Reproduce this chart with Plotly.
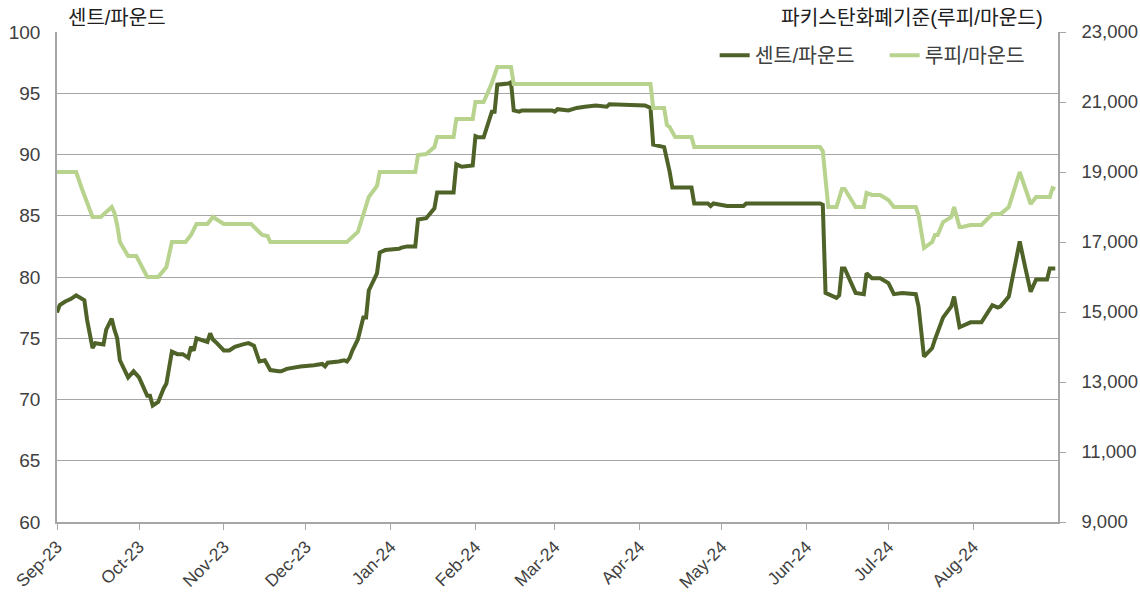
import plotly.graph_objects as go

cent_dates = ["2023-09-01","2023-09-02","2023-09-04","2023-09-06","2023-09-08","2023-09-11","2023-09-12","2023-09-14","2023-09-15","2023-09-18",
"2023-09-19","2023-09-21","2023-09-22","2023-09-23","2023-09-24","2023-09-27","2023-09-29","2023-10-01","2023-10-04","2023-10-05",
"2023-10-06","2023-10-08","2023-10-10","2023-10-11","2023-10-13","2023-10-15","2023-10-17","2023-10-19","2023-10-20","2023-10-21",
"2023-10-22","2023-10-25","2023-10-26","2023-10-27","2023-10-28","2023-10-29","2023-11-01","2023-11-03","2023-11-05","2023-11-08",
"2023-11-10","2023-11-12","2023-11-14","2023-11-16","2023-11-18","2023-11-21","2023-11-22","2023-11-24","2023-11-26","2023-11-29",
"2023-12-04","2023-12-07","2023-12-08","2023-12-09","2023-12-13","2023-12-15","2023-12-16","2023-12-17","2023-12-18","2023-12-20",
"2023-12-22","2023-12-23","2023-12-24","2023-12-27","2023-12-28","2023-12-30","2024-01-04","2024-01-05","2024-01-07","2024-01-10",
"2024-01-11","2024-01-14","2024-01-17","2024-01-18","2024-01-24","2024-01-25","2024-01-27","2024-01-31","2024-02-01","2024-02-02",
"2024-02-04","2024-02-07","2024-02-08","2024-02-09","2024-02-13","2024-02-14","2024-02-15","2024-02-17","2024-02-18","2024-02-29",
"2024-03-01","2024-03-02","2024-03-06","2024-03-09","2024-03-12","2024-03-16","2024-03-20","2024-03-21","2024-04-03","2024-04-05",
"2024-04-06","2024-04-10","2024-04-12","2024-04-13","2024-04-20","2024-04-21","2024-04-26","2024-04-27","2024-04-28","2024-05-03",
"2024-05-09","2024-05-10","2024-05-19","2024-05-25","2024-06-06","2024-06-07","2024-06-08","2024-06-12","2024-06-13","2024-06-14",
"2024-06-15","2024-06-19","2024-06-22","2024-06-23","2024-06-25","2024-06-28","2024-07-01","2024-07-03","2024-07-06","2024-07-11",
"2024-07-12","2024-07-14","2024-07-17","2024-07-18","2024-07-21","2024-07-24","2024-07-25","2024-07-27","2024-07-31","2024-08-04",
"2024-08-08","2024-08-10","2024-08-11","2024-08-14","2024-08-18","2024-08-20","2024-08-22","2024-08-24","2024-08-28","2024-08-29",
"2024-08-31"]
cent_values = [77.1,77.7,78.0,78.2,78.5,78.1,76.5,74.2,74.6,74.5,
75.7,76.6,75.7,75.0,73.2,71.8,72.3,71.8,70.3,70.3,
69.5,69.8,70.9,71.3,73.9,73.7,73.7,73.4,74.3,74.0,
75.0,74.8,74.7,75.4,74.9,74.7,74.0,74.0,74.3,74.5,
74.6,74.4,73.1,73.2,72.4,72.3,72.3,72.5,72.6,72.7,
72.8,72.9,72.7,73.0,73.1,73.2,73.1,73.4,74.0,74.9,
76.7,76.7,78.9,80.3,82.0,82.2,82.3,82.4,82.5,82.5,
84.7,84.8,85.6,86.9,86.9,89.2,89.0,89.1,91.5,91.4,
91.4,93.5,93.5,95.7,95.8,95.9,93.6,93.5,93.6,93.6,
93.5,93.7,93.6,93.8,93.9,94.0,93.9,94.1,94.0,93.8,
90.8,90.6,88.6,87.3,87.3,86.0,86.0,85.8,86.0,85.8,
85.8,86.0,86.0,86.0,86.0,85.9,78.7,78.3,78.5,80.7,
80.7,78.7,78.6,80.3,79.9,79.9,79.5,78.6,78.7,78.6,
77.6,73.5,74.2,74.9,76.7,77.6,78.4,75.9,76.3,76.3,
77.7,77.5,77.6,78.4,82.9,80.8,78.8,79.8,79.8,80.7,
80.7]

rupee_dates = ["2023-09-01","2023-09-08","2023-09-10","2023-09-14","2023-09-17","2023-09-21","2023-09-22","2023-09-23","2023-09-24","2023-09-27",
"2023-09-30","2023-10-04","2023-10-08","2023-10-11","2023-10-13","2023-10-18","2023-10-20","2023-10-22","2023-10-26","2023-10-28",
"2023-11-01","2023-11-11","2023-11-15","2023-11-17","2023-11-18","2023-12-16","2023-12-20","2023-12-22","2023-12-24","2023-12-27",
"2023-12-28","2024-01-10","2024-01-11","2024-01-14","2024-01-17","2024-01-18","2024-01-24","2024-01-25","2024-01-31","2024-02-01",
"2024-02-04","2024-02-07","2024-02-09","2024-02-14","2024-02-15","2024-04-05","2024-04-06","2024-04-10","2024-04-11","2024-04-12",
"2024-04-14","2024-04-20","2024-04-21","2024-06-06","2024-06-07","2024-06-09","2024-06-12","2024-06-14","2024-06-15","2024-06-19",
"2024-06-22","2024-06-23","2024-06-25","2024-06-28","2024-07-01","2024-07-03","2024-07-11","2024-07-12","2024-07-14","2024-07-17",
"2024-07-18","2024-07-19","2024-07-21","2024-07-24","2024-07-25","2024-07-27","2024-07-28","2024-07-31","2024-08-04","2024-08-08",
"2024-08-11","2024-08-14","2024-08-18","2024-08-20","2024-08-22","2024-08-24","2024-08-29","2024-08-30","2024-08-31"]
rupee_values = [19000,19000,18543,17714,17714,18000,17829,17486,17000,16600,
16600,16000,16000,16286,17000,17000,17200,17514,17514,17714,
17514,17514,17200,17171,17000,17000,17286,17800,18286,18600,
19000,19000,19486,19514,19714,20000,20000,20514,20514,21000,
21000,21543,22000,22000,21514,21514,20829,20829,20343,20286,
20000,20000,19714,19714,19600,18000,18000,18514,18514,18000,
18000,18400,18343,18343,18200,18000,18000,17771,16829,17000,
17200,17200,17571,17714,18000,17429,17429,17486,17486,17800,
17800,18000,19000,18543,18086,18286,18286,18543,18514]

month_ticks = ["2023-09-01","2023-10-01","2023-11-01","2023-12-01","2024-01-01","2024-02-01",
               "2024-03-01","2024-04-01","2024-05-01","2024-06-01","2024-07-01","2024-08-01"]
month_labels = ["Sep-23","Oct-23","Nov-23","Dec-23","Jan-24","Feb-24",
                "Mar-24","Apr-24","May-24","Jun-24","Jul-24","Aug-24"]
left_ticks = [60, 65, 70, 75, 80, 85, 90, 95, 100]
right_ticks = [9000, 11000, 13000, 15000, 17000, 19000, 21000, 23000]
right_tick_labels = ["9,000", "11,000", "13,000", "15,000", "17,000", "19,000", "21,000", "23,000"]

name_cent = "센트/파운드"
name_rupee = "루피/마운드"
title_left = "센트/파운드"
title_right = "파키스탄화폐기준(루피/마운드)"

DARK = "#4f6228"
LIGHT = "#b8d38e"
GRID = "#a6a6a6"
TXT = "#404040"
FONT = "Liberation Sans, Noto Sans CJK KR, Arial, sans-serif"

fig = go.Figure()
fig.add_trace(go.Scatter(x=cent_dates, y=cent_values, name=name_cent, mode="lines",
                         line=dict(color=DARK, width=4), yaxis="y"))
fig.add_trace(go.Scatter(x=rupee_dates, y=rupee_values, name=name_rupee, mode="lines",
                         line=dict(color=LIGHT, width=4), yaxis="y2"))

fig.update_layout(
    width=1140, height=592,
    margin=dict(l=57, r=82, t=32, b=70, autoexpand=False),
    paper_bgcolor="white", plot_bgcolor="white",
    font=dict(family=FONT, size=18, color=TXT),
    showlegend=True,
    legend=dict(orientation="h", x=0.657, y=0.993, xanchor="left", yanchor="top",
                bgcolor="rgba(0,0,0,0)", font=dict(size=20.5, color=TXT),
                itemwidth=30, entrywidth=125, entrywidthmode="pixels", traceorder="normal"),
    xaxis=dict(type="date", range=["2023-09-01", "2024-09-01"],
               tickvals=month_ticks, ticktext=month_labels,
               tickangle=-45, showgrid=False, showline=True, linecolor=GRID, linewidth=1.5,
               ticks="outside", ticklen=6, tickcolor=GRID, tickfont=dict(size=17.5, color=TXT),
               zeroline=False, automargin=False),
    yaxis=dict(range=[60, 100], tickvals=left_ticks, showgrid=True, gridcolor=GRID, gridwidth=1.2,
               showline=True, linecolor=GRID, linewidth=1.5, ticks="", ticklabelstandoff=11,
               tickfont=dict(size=19, color=TXT), zeroline=False, automargin=False),
    yaxis2=dict(range=[9000, 23000], tickvals=right_ticks, ticktext=right_tick_labels,
                overlaying="y", side="right", showgrid=False, showline=True, linecolor=GRID,
                linewidth=1.5, ticks="outside", ticklen=6, tickcolor=GRID, ticklabelstandoff=12,
                tickfont=dict(size=18.5, color=TXT), zeroline=False, automargin=False),
    annotations=[
        dict(text=title_left, xref="paper", yref="paper", x=0.009, y=1.0, yshift=1,
             xanchor="left", yanchor="bottom", showarrow=False, font=dict(size=20, color="#202020")),
        dict(text=title_right, xref="paper", yref="paper", x=0.987, y=1.0, yshift=1,
             xanchor="right", yanchor="bottom", showarrow=False, font=dict(size=20.3, color="#202020")),
    ],
)

fig.write_html("out.html", config={"displayModeBar": False},
               post_script="document.body.style.margin='0';document.body.style.padding='0';")
